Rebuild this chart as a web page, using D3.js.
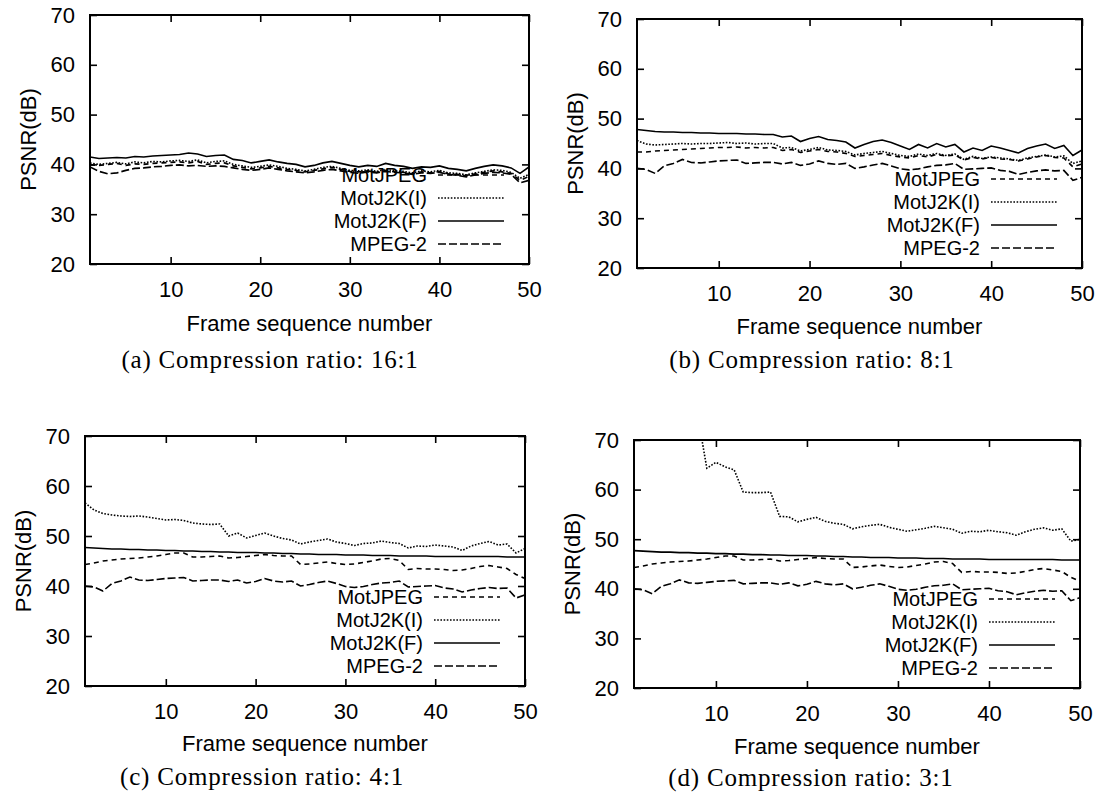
<!DOCTYPE html>
<html>
<head>
<meta charset="utf-8">
<script src="https://cdn.jsdelivr.net/npm/d3@7"></script>
<style>
  body { margin: 0; background: #fff; }
</style>
</head>
<body>
<script>
// ---- data ----
const frames = d3.range(1, 51);
const xTicks = [10, 20, 30, 40, 50];
const yTicks = [20, 30, 40, 50, 60, 70];
const seriesNames = ["MotJPEG", "MotJ2K(I)", "MotJ2K(F)", "MPEG-2"];
const captions = ["(a) Compression ratio: 16:1", "(b) Compression ratio: 8:1",
                  "(c) Compression ratio: 4:1", "(d) Compression ratio: 3:1"];

// (a) 16:1
const jpeg16 = [39.9, 39.8, 40.0, 40.2, 39.8, 40.1, 40.0, 40.2, 40.3, 40.4,
                40.5, 40.3, 40.6, 40.0, 40.2, 40.3, 39.7, 39.4, 39.1, 39.3,
                39.6, 39.3, 39.0, 38.8, 38.5, 38.8, 39.1, 39.4, 39.0, 38.6,
                38.5, 38.7, 38.4, 38.8, 38.5, 38.4, 38.1, 38.5, 38.3, 38.6,
                38.1, 38.0, 37.7, 38.1, 38.4, 38.7, 38.5, 38.2, 36.8, 37.6];
const j2kI16 = [40.3, 40.0, 40.2, 40.4, 40.1, 40.5, 40.3, 40.6, 40.5, 40.7,
                40.8, 40.6, 40.9, 40.3, 40.6, 40.7, 40.0, 39.7, 39.4, 39.6,
                39.9, 39.6, 39.2, 39.0, 38.7, 39.0, 39.4, 39.6, 39.2, 38.8,
                38.7, 38.9, 38.6, 39.0, 38.7, 38.6, 38.3, 38.7, 38.5, 38.8,
                38.3, 38.2, 37.9, 38.3, 38.6, 38.9, 38.8, 38.4, 37.2, 38.0];
const j2kF16 = [41.5, 41.2, 41.3, 41.4, 41.3, 41.6, 41.5, 41.7, 41.8, 41.9,
                42.0, 42.3, 42.1, 41.6, 41.8, 41.9, 41.0, 40.8, 40.3, 40.6,
                40.9, 40.5, 40.2, 40.0, 39.5, 39.8, 40.3, 40.6, 40.2, 39.8,
                39.5, 39.8, 39.6, 40.2, 39.8, 39.6, 39.2, 39.5, 39.4, 39.7,
                39.2, 39.0, 38.7, 39.2, 39.6, 39.9, 39.7, 39.3, 38.2, 39.5];
const mpeg16 = [39.5, 38.6, 38.1, 38.3, 38.8, 39.2, 39.3, 39.5, 39.6, 39.8,
                39.9, 39.7, 39.8, 39.6, 39.7, 39.6, 39.3, 39.0, 38.8, 39.0,
                39.3, 39.0, 38.7, 38.5, 38.3, 38.5, 38.8, 39.0, 38.7, 38.4,
                38.2, 38.5, 38.3, 38.6, 38.4, 38.3, 38.0, 38.3, 38.2, 38.4,
                38.0, 37.8, 37.5, 37.9, 38.2, 38.4, 38.3, 38.0, 36.3, 36.8];

// (b) 8:1
const jpeg8 = [43.3, 43.3, 43.5, 43.6, 43.7, 43.8, 43.9, 44.0, 44.1, 44.2,
               44.2, 44.3, 44.1, 44.2, 44.1, 44.2, 43.6, 43.8, 43.2, 43.5,
               43.8, 43.4, 43.3, 43.0, 42.4, 42.6, 42.8, 43.0, 42.6, 42.3,
               42.1, 42.6, 42.3, 42.8, 42.5, 42.7, 41.7, 42.2, 41.9, 42.2,
               41.9, 41.8, 41.5, 41.9, 42.3, 42.6, 42.2, 42.1, 40.3, 40.9];
const j2kI8 = [45.6, 44.9, 44.7, 44.8, 44.9, 45.0, 44.9, 45.0, 45.0, 45.1,
               45.2, 45.0, 45.1, 44.9, 45.0, 45.0, 44.1, 44.2, 43.5, 43.8,
               44.2, 43.7, 43.6, 43.4, 42.7, 43.0, 43.2, 43.4, 43.0, 42.6,
               42.4, 42.9, 42.6, 43.0, 42.6, 42.9, 41.8, 42.4, 42.0, 42.3,
               42.1, 41.9, 41.6, 42.1, 42.4, 42.7, 42.3, 42.5, 41.0, 41.5];
const j2kF8 = [47.8, 47.6, 47.4, 47.3, 47.3, 47.2, 47.2, 47.1, 47.1, 47.0,
               47.0, 47.0, 46.9, 46.9, 46.8, 46.8, 46.3, 46.5, 45.4, 46.0,
               46.4, 45.8, 45.6, 45.3, 44.1, 44.8, 45.4, 45.7, 45.2, 44.5,
               43.8, 44.8, 44.1, 45.0, 44.3, 44.8, 43.3, 44.1, 43.6, 44.5,
               44.1, 43.6, 43.1, 44.0, 44.5, 44.9, 44.0, 44.6, 42.6, 43.7];

// MPEG-2 curve is the same in (b), (c) and (d)
const mpegHigh = [40.0, 39.8, 39.0, 40.5, 41.0, 41.8, 41.2, 41.1, 41.3, 41.5,
                  41.6, 41.7, 41.0, 41.1, 41.2, 41.2, 40.9, 41.2, 40.6, 40.9,
                  41.5, 41.0, 40.8, 41.0, 40.0, 40.3, 40.7, 41.0, 40.5, 39.9,
                  39.7, 39.9, 40.3, 40.6, 40.7, 41.0, 39.8, 39.9, 40.0, 40.1,
                  39.6, 39.4, 38.8, 39.2, 39.5, 39.7, 39.5, 39.6, 37.6, 38.2];

// (c) 4:1 and (d) 3:1 share MotJPEG and MotJ2K(F)
const jpegLow = [44.3, 44.6, 45.0, 45.2, 45.4, 45.5, 45.6, 45.8, 46.0, 46.3,
                 46.6, 46.6, 45.8, 45.8, 45.9, 46.0, 45.6, 45.7, 45.9, 46.1,
                 46.3, 46.1, 46.0, 46.0, 44.3, 44.4, 44.6, 44.8, 44.5, 44.3,
                 44.4, 44.7, 45.0, 45.4, 45.5, 45.1, 43.3, 43.5, 43.4, 43.4,
                 43.3, 43.1, 43.2, 43.5, 43.9, 44.1, 43.8, 43.5, 42.3, 41.5];
const j2kFLow = [47.7, 47.6, 47.5, 47.4, 47.4, 47.3, 47.3, 47.2, 47.2, 47.1,
                 47.1, 47.0, 47.0, 46.9, 46.9, 46.8, 46.8, 46.7, 46.7, 46.7,
                 46.6, 46.6, 46.5, 46.5, 46.4, 46.4, 46.3, 46.3, 46.3, 46.2,
                 46.2, 46.2, 46.1, 46.1, 46.1, 46.0, 46.0, 46.0, 46.0, 45.9,
                 45.9, 45.9, 45.9, 45.9, 45.9, 45.9, 45.9, 45.8, 45.8, 45.8];
const j2kI4 = [56.6, 55.2, 54.5, 54.2, 54.0, 53.9, 54.0, 53.8, 53.5, 53.2,
               53.3, 53.1, 52.6, 52.4, 52.3, 52.4, 50.0, 50.6, 49.6, 50.1,
               50.6, 50.0, 49.5, 49.2, 48.4, 48.8, 49.1, 49.4, 48.8, 48.5,
               48.1, 48.5, 48.6, 49.0, 48.7, 48.5, 47.6, 48.0, 47.9, 48.2,
               48.0, 47.8, 47.1, 48.0, 48.5, 48.9, 48.2, 48.4, 46.6, 47.5];
// first frames are above the 70 dB top of the plot
const j2kI3 = [88.0, 86.0, 84.0, 82.0, 80.0, 78.0, 77.0, 75.0, 64.3, 65.5,
               64.6, 64.0, 59.5, 59.4, 59.4, 59.5, 54.6, 54.5, 53.5, 54.0,
               54.4, 53.6, 53.2, 53.0, 52.1, 52.5, 52.8, 53.0, 52.4, 52.0,
               51.6, 51.9, 52.2, 52.6, 52.3, 52.0, 51.2, 51.6, 51.5, 51.8,
               51.5, 51.3, 50.8, 51.5, 52.0, 52.3, 51.8, 52.1, 49.6, 50.0];

// ---- layout ----
const width = 1097, height = 794;
const fontSans = "'Liberation Sans', Arial, sans-serif";
const fontSerif = "'Liberation Serif', 'Times New Roman', serif";
const fontSize = 22;

// line style per series: MotJPEG, MotJ2K(I), MotJ2K(F), MPEG-2
const dashes = ["5,4", "1.6,1.6", null, "8,3"];

const panels = [
  { left: 90,  top: 15,  right: 529,  bottom: 264, titleY: 323, capX: 270, capY: 359,
    caption: captions[0], series: [jpeg16, j2kI16, j2kF16, mpeg16] },
  { left: 637, top: 19,  right: 1082, bottom: 268, titleY: 326, capX: 812, capY: 359,
    caption: captions[1], series: [jpeg8, j2kI8, j2kF8, mpegHigh] },
  { left: 85,  top: 436, right: 525,  bottom: 686, titleY: 743, capX: 262, capY: 776,
    caption: captions[2], series: [jpegLow, j2kI4, j2kFLow, mpegHigh] },
  { left: 634, top: 440, right: 1080, bottom: 688, titleY: 746, capX: 811, capY: 777,
    caption: captions[3], series: [jpegLow, j2kI3, j2kFLow, mpegHigh] }
];

const svg = d3.select("body").append("svg")
    .attr("width", width)
    .attr("height", height)
    .style("display", "block");

panels.forEach((p, pi) => drawPanel(p, pi));

function drawPanel(p, pi) {
  const x = d3.scaleLinear().domain([1, 50]).range([p.left, p.right]);
  const y = d3.scaleLinear().domain([20, 70]).range([p.bottom, p.top]);
  const g = svg.append("g");

  g.append("clipPath")
      .attr("id", "clip" + pi)
    .append("rect")
      .attr("x", p.left)
      .attr("y", p.top)
      .attr("width", p.right - p.left)
      .attr("height", p.bottom - p.top);

  // Axes with inward ticks, mirrored on top and right
  const styleAxis = a => {
    a.select(".domain").remove();
    a.attr("font-size", fontSize).attr("font-family", fontSans);
    a.selectAll("line").attr("stroke", "#000").attr("stroke-width", 1.6);
    a.selectAll("text").attr("fill", "#000");
  };

  g.append("g")
      .attr("transform", `translate(0,${p.bottom})`)
      .call(d3.axisBottom(x).tickValues(xTicks).tickSizeInner(-7).tickSizeOuter(0).tickPadding(17))
      .call(styleAxis);
  g.append("g")
      .attr("transform", `translate(0,${p.top})`)
      .call(d3.axisTop(x).tickValues(xTicks).tickSizeInner(-7).tickSizeOuter(0).tickFormat(""))
      .call(styleAxis);
  g.append("g")
      .attr("transform", `translate(${p.left},0)`)
      .call(d3.axisLeft(y).tickValues(yTicks).tickSizeInner(-7).tickSizeOuter(0).tickPadding(15))
      .call(styleAxis);
  g.append("g")
      .attr("transform", `translate(${p.right},0)`)
      .call(d3.axisRight(y).tickValues(yTicks).tickSizeInner(-7).tickSizeOuter(0).tickFormat(""))
      .call(styleAxis);

  // Data lines
  const line = d3.line()
      .x((d, i) => x(frames[i]))
      .y(d => y(d));

  g.append("g")
      .attr("clip-path", `url(#clip${pi})`)
    .selectAll("path")
    .data(p.series)
    .join("path")
      .attr("d", line)
      .attr("fill", "none")
      .attr("stroke", "#000")
      .attr("stroke-width", 1.6)
      .attr("stroke-dasharray", (d, i) => dashes[i]);

  // Frame
  g.append("rect")
      .attr("x", p.left)
      .attr("y", p.top)
      .attr("width", p.right - p.left)
      .attr("height", p.bottom - p.top)
      .attr("fill", "none")
      .attr("stroke", "#000")
      .attr("stroke-width", 2);

  // Legend, bottom right inside the plot
  const legend = g.append("g")
    .selectAll("g")
    .data(seriesNames)
    .join("g")
      .attr("transform", (d, i) => `translate(${p.right},${p.bottom - 20 - 23 * (3 - i)})`);

  legend.append("text")
      .attr("x", -102)
      .attr("dy", "0.35em")
      .attr("text-anchor", "end")
      .attr("font-family", fontSans)
      .attr("font-size", 20)
      .text(d => d);

  legend.append("line")
      .attr("x1", -91)
      .attr("x2", -25)
      .attr("stroke", "#000")
      .attr("stroke-width", 1.6)
      .attr("stroke-dasharray", (d, i) => dashes[i]);

  // Axis titles
  g.append("text")
      .attr("transform", `translate(${p.left - 62},${(p.top + p.bottom) / 2}) rotate(-90)`)
      .attr("dy", "0.35em")
      .attr("text-anchor", "middle")
      .attr("font-family", fontSans)
      .attr("font-size", fontSize)
      .text("PSNR(dB)");

  g.append("text")
      .attr("x", (p.left + p.right) / 2)
      .attr("y", p.titleY)
      .attr("dy", "0.35em")
      .attr("text-anchor", "middle")
      .attr("font-family", fontSans)
      .attr("font-size", fontSize)
      .text("Frame sequence number");

  // Sub-figure caption
  g.append("text")
      .attr("x", p.capX)
      .attr("y", p.capY)
      .attr("dy", "0.35em")
      .attr("text-anchor", "middle")
      .attr("font-family", fontSerif)
      .attr("font-size", 25)
      .attr("letter-spacing", 0.8)
      .text(p.caption);
}
</script>
</body>
</html>
